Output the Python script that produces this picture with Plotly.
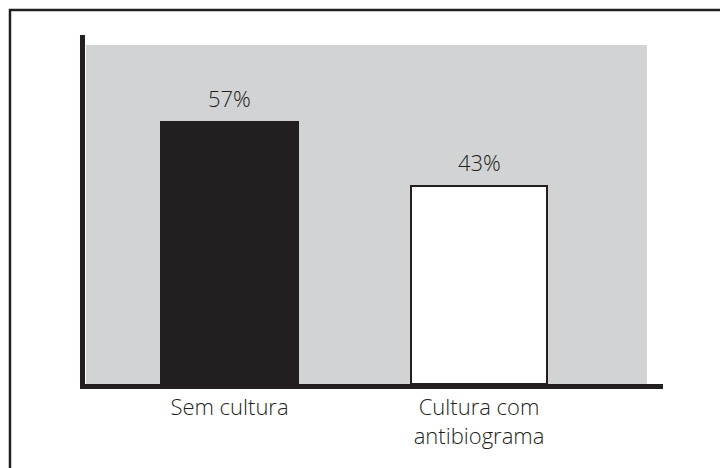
import plotly.graph_objects as go

# Chart data
categories = ["Sem cultura", "Cultura com<br>antibiograma"]
values = [57, 43]
value_labels = ["57%", "43%"]
bar_fills = ["#231f20", "#ffffff"]

ink = "#231f20"
panel = "#d1d3d4"
font_family = "'Open Sans', 'Noto Sans', sans-serif"

x_pos = [0, 1]

fig = go.Figure()
fig.add_trace(go.Bar(
    x=x_pos,
    y=values,
    width=0.548,
    marker=dict(color=bar_fills, line=dict(color=ink, width=2)),
    hoverinfo="skip",
))

# Percentage labels above each bar
for xp, v, lab in zip(x_pos, values, value_labels):
    fig.add_annotation(
        x=xp, y=v, text=lab, showarrow=False,
        yanchor="bottom", yshift=7,
        font=dict(family=font_family, size=22, color=ink, weight=300),
    )

# Axis lines, drawn thick like the printed figure
fig.add_shape(type="rect", xref="paper", yref="paper",
              x0=-0.0107, x1=-0.0018, y0=-0.0148, y1=1.0295,
              fillcolor=ink, line=dict(width=0), layer="above")
fig.add_shape(type="rect", xref="paper", yref="paper",
              x0=-0.0107, x1=1.0285, y0=-0.0148, y1=0,
              fillcolor=ink, line=dict(width=0), layer="above")

# Outer frame around the figure
fig.add_shape(type="rect", xref="paper", yref="paper",
              x0=-0.1355, x1=1.16, y0=-0.30, y1=1.1032,
              line=dict(color=ink, width=2.5), fillcolor="rgba(0,0,0,0)")

fig.update_layout(
    width=720, height=468,
    margin=dict(l=86, r=73, t=45, b=84),
    paper_bgcolor="white",
    plot_bgcolor=panel,
    showlegend=False,
    bargap=0,
    xaxis=dict(
        range=[-0.575, 1.673],
        tickvals=x_pos, ticktext=categories,
        showgrid=False, zeroline=False, showline=False, ticks="",
        tickfont=dict(family=font_family, size=22, color=ink, weight=300),
        ticklabelstandoff=8,
    ),
    yaxis=dict(
        range=[0, 73.8],
        showgrid=False, zeroline=False, showline=False,
        showticklabels=False, ticks="",
    ),
)

fig.write_html("out.html")
